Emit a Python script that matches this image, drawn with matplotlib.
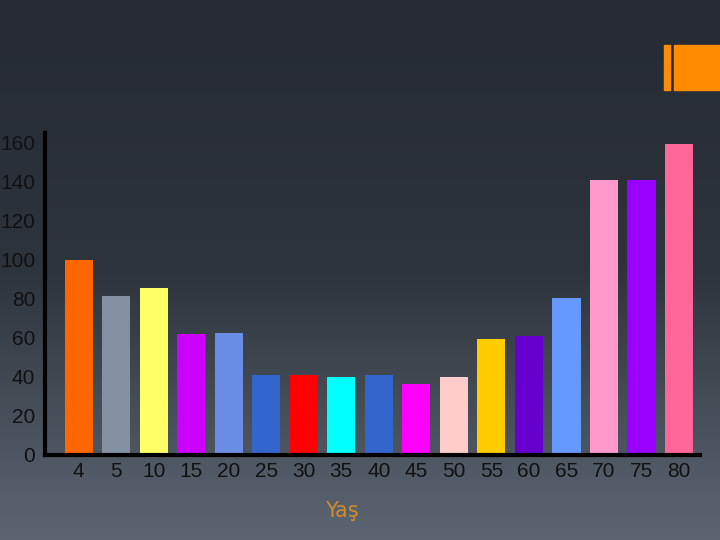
import numpy as np
import matplotlib.pyplot as plt
from matplotlib.colors import LinearSegmentedColormap
from matplotlib.patches import Rectangle

# Age groups and values
ages = ['4', '5', '10', '15', '20', '25', '30', '35', '40', '45', '50', '55', '60', '65', '70', '75', '80']
values = [100, 81.5, 85.5, 62, 62.5, 41, 41, 40, 41, 36.5, 40, 59.5, 61, 80.5, 141, 141, 159.5]
bar_colors = ['#ff6600', '#8391a3', '#ffff66', '#cc00ff', '#6a8ee6', '#3366cc', '#ff0000',
              '#00ffff', '#3366cc', '#ff00ff', '#ffcccc', '#ffcc00', '#6600cc', '#6699ff',
              '#ff99cc', '#9900ff', '#ff6699']
y_ticks = [0, 20, 40, 60, 80, 100, 120, 140, 160]

plt.rcParams['font.family'] = ['Liberation Sans', 'DejaVu Sans']

fig = plt.figure(figsize=(7.2, 5.4), dpi=100)

# background gradient
bg = fig.add_axes([0, 0, 1, 1], zorder=-10)
cmap = LinearSegmentedColormap.from_list('bg', ['#262b33', '#2e343c', '#5c6672'])
grad = np.linspace(0, 1, 256).reshape(-1, 1)
bg.imshow(grad, aspect='auto', cmap=cmap, extent=[0, 1, 0, 1], origin='upper')
bg.axis('off')

# orange decoration top right
fig.patches.append(Rectangle((664 / 720, 1 - 90 / 540), 6 / 720, 45 / 540,
                             transform=fig.transFigure, color='#ff8c00', zorder=5))
fig.patches.append(Rectangle((674 / 720, 1 - 90 / 540), 46 / 720, 45 / 540,
                             transform=fig.transFigure, color='#ff8c00', zorder=5))

ax = fig.add_axes([45 / 720, 1 - 455 / 540, 655 / 720, 322 / 540])
ax.patch.set_alpha(0)
x = np.arange(len(ages))
ax.bar(x, values, width=0.75, color=bar_colors)

ax.set_xlim(-0.9, 16.56)
ax.set_ylim(0, 165)
ax.set_yticks(y_ticks)
ax.set_xticks(x)
ax.set_xticklabels(ages)
ax.tick_params(axis='both', length=0, labelsize=15, colors='#111111')
ax.tick_params(axis='y', pad=7)
ax.tick_params(axis='x', pad=5)

for side in ['top', 'right']:
    ax.spines[side].set_visible(False)
for side in ['left', 'bottom']:
    ax.spines[side].set_color('black')
    ax.spines[side].set_linewidth(3)

fig.text(342 / 720, 1 - 511 / 540, 'Yaş', color='#d08a2a', fontsize=15,
         ha='center', va='center', family=['DejaVu Sans'])

plt.savefig('out.png', dpi=100)
